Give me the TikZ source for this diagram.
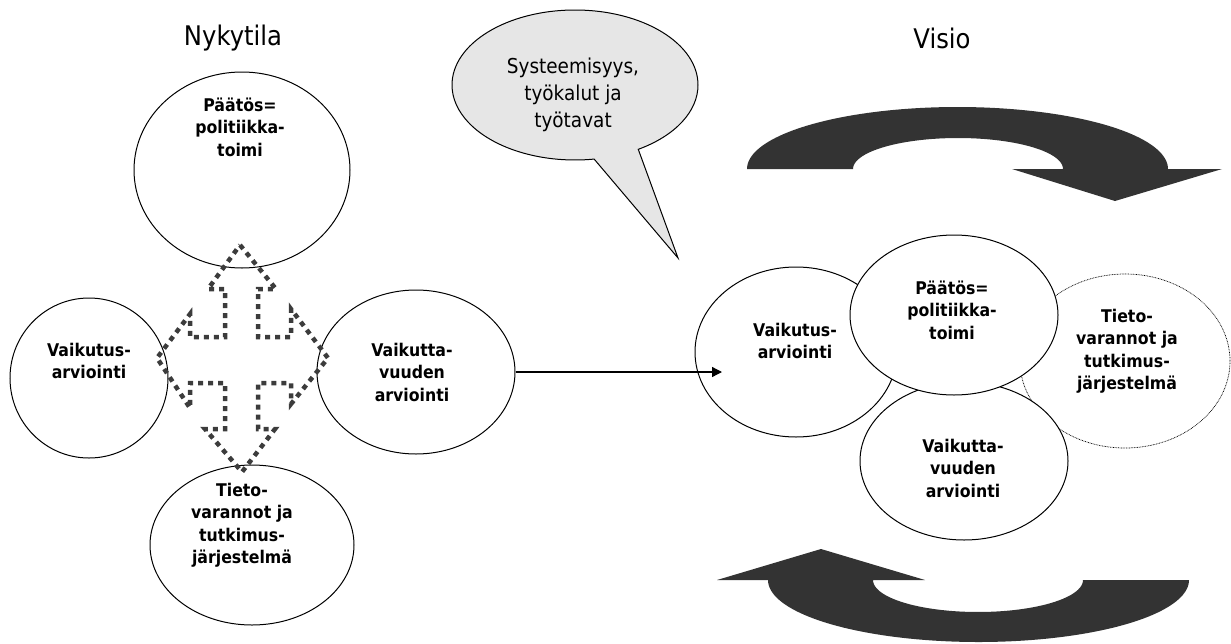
\documentclass[tikz,border=0pt]{standalone}
\usepackage{fontspec}
\setmainfont{DejaVu Sans}[FakeStretch=0.9]
\usetikzlibrary{shapes.geometric,shapes.callouts,arrows.meta}

\definecolor{arrowgray}{HTML}{333333}
\definecolor{dotgray}{HTML}{3C3C3C}
\definecolor{bubblefill}{HTML}{E6E6E6}

\begin{document}
\begin{tikzpicture}[x=1pt,y=-1pt,
  bubble/.style={ellipse, draw=black, line width=1pt, fill=white, inner sep=0pt},
  faint/.style={ellipse, draw=black, line width=0.7pt, dash pattern=on 0.8pt off 0.8pt, fill=white, inner sep=0pt},
  lbl/.style={align=center, font=\fontsize{17.5}{22.5}\selectfont\bfseries, inner sep=0pt},
  title/.style={font=\fontsize{27}{32}\selectfont, inner sep=0pt},
  note/.style={align=center, font=\fontsize{20.5}{27}\selectfont, inner sep=0pt},
  turn/.style={fill=arrowgray, draw=none},
  cross/.style={draw=dotgray, line width=4.5pt, dash pattern=on 5pt off 5pt}
]
\useasboundingbox (0,0) rectangle (1231,643);

% titles
\node[title] (tnow) at (233,38) {Nykytila};
\node[title] (tvis) at (942,38) {Visio};

% current state: four separate ellipses
\node[bubble, minimum width=216pt, minimum height=196pt] (P1) at (242,170) {};
\node[bubble, minimum width=158pt, minimum height=160pt] (V1) at (89,378) {};
\node[bubble, minimum width=198pt, minimum height=164pt] (VV1) at (416,372) {};
\node[bubble, minimum width=204pt, minimum height=160pt] (T1) at (252,545) {};

\node[lbl] (P1t) at (240,127) {Päätös=\\politiikka-\\toimi};
\node[lbl] (V1t) at (89,361) {Vaikutus-\\arviointi};
\node[lbl] (VV1t) at (412,372) {Vaikutta-\\vuuden\\arviointi};
\node[lbl] (T1t) at (242,525) {Tieto-\\varannot ja\\tutkimus-\\järjestelmä};

% dotted four-way arrow between them
\draw[cross] (240,245) -- (276,289) -- (258,289) -- (258,337) -- (291,337)
  -- (291,309) -- (328,358) -- (291,404) -- (291,383) -- (258,383)
  -- (258,429) -- (275,429) -- (242,472) -- (205,429) -- (225,429)
  -- (225,383) -- (190,383) -- (190,408) -- (157,358) -- (190,314)
  -- (190,337) -- (225,337) -- (225,289) -- (208,289) -- cycle;

% speech bubble
\node[ellipse callout, draw=black, line width=1pt, fill=bubblefill,
  minimum width=246pt, minimum height=150pt, inner sep=0pt,
  callout absolute pointer={(678,258)}, callout pointer arc=22] (bub) at (575,85) {};
\node[note] (bubt) at (573,95) {Systeemisyys,\\työkalut ja\\työtavat};

% vision: overlapping ellipses
\node[faint, minimum width=210pt, minimum height=174pt] (T2) at (1125,361) {};
\node[bubble, minimum width=202pt, minimum height=170pt] (V2) at (796,352) {};
\node[bubble, minimum width=208pt, minimum height=158pt] (VV2) at (964,461) {};
\node[bubble, minimum width=208pt, minimum height=160pt] (P2) at (954,315) {};

\node[lbl] (T2t) at (1127,351) {Tieto-\\varannot ja\\tutkimus-\\järjestelmä};
\node[lbl] (V2t) at (795,341) {Vaikutus-\\arviointi};
\node[lbl] (VV2t) at (963,468) {Vaikutta-\\vuuden\\arviointi};
\node[lbl] (P2t) at (952,310) {Päätös=\\politiikka-\\toimi};

% transition arrow
\coordinate (aend) at (722,372);
\draw[line width=1.3pt, -{Triangle[length=10pt,width=10pt]}] (VV1.east) -- (aend);

% circulating block arrows
\fill[turn] plot[domain=180:0, samples=90] ({957.5+210.5*cos(\x)},{169-62*sin(\x)})
  -- (1222,169) -- (1115,201) -- (1012,169) -- (1063,169)
  -- plot[domain=0:180, samples=60] ({958+105*cos(\x)},{169-31*sin(\x)}) -- cycle;
\fill[turn] plot[domain=0:180, samples=90] ({978.5+210.5*cos(\x)},{580+62*sin(\x)})
  -- (717,580) -- (821,549) -- (925,580) -- (873,580)
  -- plot[domain=180:0, samples=60] ({978+105*cos(\x)},{580+32*sin(\x)}) -- cycle;
\end{tikzpicture}
\end{document}
